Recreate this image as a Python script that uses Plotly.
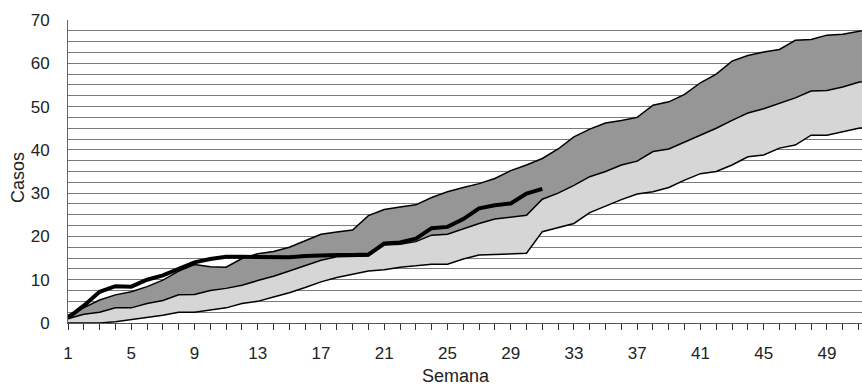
import plotly.graph_objects as go

weeks = list(range(1, 53))
lower = [0, 0, 0, 0.3, 0.8, 1.3, 1.8, 2.5, 2.5, 3, 3.5, 4.5, 5, 6, 7, 8.2, 9.5, 10.5, 11.2, 12,
         12.3, 12.9, 13.2, 13.6, 13.6, 14.8, 15.7, 15.8, 16, 16.1, 21.1, 22, 23, 25.5, 27, 28.5,
         29.8, 30.3, 31.3, 33, 34.5, 35, 36.5, 38.4, 38.8, 40.4, 41.1, 43.4, 43.4, 44.2, 45, 45.5]
middle = [1, 2, 2.5, 3.5, 3.5, 4.5, 5.2, 6.5, 6.6, 7.5, 8, 8.7, 9.8, 10.8, 12, 13.2, 14.5, 15.3,
          15.4, 15.5, 18, 18.2, 18.8, 20.3, 20.5, 21.8, 23, 24, 24.5, 24.9, 28.6, 30, 31.8, 33.8,
          35, 36.5, 37.4, 39.6, 40.2, 41.8, 43.4, 45, 46.8, 48.5, 49.5, 50.8, 52, 53.6, 53.7, 54.5,
          55.6, 56.2]
upper = [1.8, 3.5, 5.3, 6.5, 7.2, 8.4, 9.9, 12, 13.5, 13, 12.9, 14.9, 16, 16.5, 17.5, 19, 20.5,
         21, 21.5, 24.8, 26.2, 26.8, 27.3, 29, 30.3, 31.3, 32.2, 33.4, 35.2, 36.5, 38, 40.2, 43,
         44.8, 46.2, 46.8, 47.5, 50.3, 51.1, 52.8, 55.5, 57.5, 60.5, 61.8, 62.6, 63.2, 65.3, 65.5,
         66.5, 66.7, 67.4, 68]
obs_weeks = list(range(1, 32))
observed = [1.2, 4, 7.2, 8.5, 8.4, 10, 11, 12.6, 14, 14.8, 15.3, 15.3, 15.3, 15.3, 15.2, 15.5,
            15.7, 15.7, 15.7, 15.8, 18.4, 18.6, 19.5, 21.9, 22.2, 24, 26.5, 27.2, 27.6, 29.9, 31]
x_ticks = list(range(1, 52, 4))

fig = go.Figure()
fig.add_trace(go.Scatter(x=weeks, y=lower, mode="lines",
                         line=dict(color="black", width=1.5), showlegend=False))
fig.add_trace(go.Scatter(x=weeks, y=middle, mode="lines", fill="tonexty",
                         fillcolor="#d6d6d6", line=dict(color="black", width=1.5),
                         showlegend=False))
fig.add_trace(go.Scatter(x=weeks, y=upper, mode="lines", fill="tonexty",
                         fillcolor="#969696", line=dict(color="black", width=1.5),
                         showlegend=False))
fig.add_trace(go.Scatter(x=obs_weeks, y=observed, mode="lines",
                         line=dict(color="black", width=4), showlegend=False))

tick_font = dict(family="Liberation Sans, Arial, sans-serif", size=17, color="#222")
title_font = dict(family="Liberation Sans, Arial, sans-serif", size=18, color="#222")

fig.update_layout(
    width=862, height=385,
    margin=dict(l=68, r=0, t=20, b=62),
    paper_bgcolor="white", plot_bgcolor="white",
    font=tick_font,
    xaxis=dict(range=[1, 51.22], tickvals=x_ticks, ticktext=[str(v) for v in x_ticks],
               ticks="outside", ticklen=6, tickcolor="#333", tickwidth=1,
               minor=dict(dtick=1, tick0=1, ticks="outside", ticklen=6, tickcolor="#333"),
               showgrid=False, zeroline=False, showline=True, linecolor="#555", linewidth=1,
               ticklabelstandoff=9, tickfont=tick_font),
    yaxis=dict(range=[0, 70], dtick=10, tick0=0, showgrid=True, gridcolor="#7a7a7a",
               gridwidth=1, minor=dict(dtick=2.5, showgrid=True, gridcolor="#7a7a7a", gridwidth=1),
               zeroline=False, showline=True, linecolor="#666", linewidth=1,
               ticks="", ticklabelstandoff=14, tickfont=tick_font),
    annotations=[
        dict(text="Casos", x=18, y=178, xref="paper", yref="paper", showarrow=False,
             textangle=-90, font=title_font),
        dict(text="Semana", x=456, y=376, xref="paper", yref="paper", showarrow=False,
             font=title_font),
    ],
)
# convert pixel annotation positions to paper coords
pw, ph = 862 - 68, 385 - 20 - 62
for a in fig.layout.annotations:
    a.x = (a.x - 68) / pw
    a.y = (385 - 62 - a.y) / ph
    a.xanchor = "center"
    a.yanchor = "middle"

fig.write_html("out.html", config={"displayModeBar": False},
               post_script="document.body.style.margin='0';document.body.style.overflow='hidden';")
